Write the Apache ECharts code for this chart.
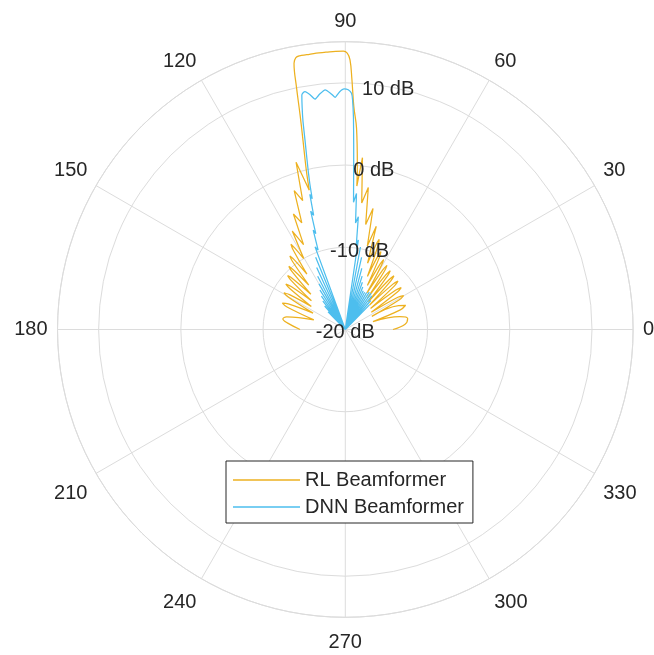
<!DOCTYPE html>
<html>
<head>
<meta charset="utf-8">
<script src="https://cdn.jsdelivr.net/npm/echarts@6/dist/echarts.min.js"></script>
<style>
html,body{margin:0;padding:0;background:#fff;}
#chart{width:654px;height:655px;}
</style>
</head>
<body>
<div id="chart"></div>
<script>
const angleTicks = [0, 30, 60, 90, 120, 150, 180, 210, 240, 270, 300, 330];
const radiusTicks = [-20, -10, 0, 10];
const radiusLabelAngle = 80;
const seriesNames = ['RL Beamformer', 'DNN Beamformer'];

// RL beamformer pattern (angle in degrees, gain in dB)
const rlAngles = [0, 5, 10, 13.3, 16, 19.6, 21.9, 24.2, 26.3, 28.8,
  30.2, 31.6, 33.6, 35.7, 36.9, 38.0, 39.8, 41.6, 42.6, 43.6,
  45.3, 46.9, 47.8, 48.7, 50.2, 51.8, 52.6, 53.4, 54.8, 56.2,
  57.0, 57.8, 59.2, 60.6, 61.3, 62.0, 63.4, 64.7, 65.4, 66.1,
  67.4, 68.7, 69.4, 70.1, 71.4, 73.3, 75.2, 77.1, 79.0, 80.8,
  82.6, 84.3, 85.4, 85.8, 86.8, 87.8, 88.5, 89.0, 89.6, 90.4,
  92, 94, 96, 98, 99.5, 100.3, 100.9, 101.4, 101.9, 102.6,
  103.3, 103.9, 104.5, 106.4, 108.3, 110.2, 112.2, 114.2, 116.2, 118.3,
  120.4, 121.8, 122.5, 123.2, 124.7, 126.2, 127.0, 127.8, 129.4, 131.0,
  131.8, 132.6, 134.3, 136.0, 136.9, 137.8, 139.7, 141.6, 142.6, 143.6,
  145.8, 148.0, 149.1, 150.3, 153.0, 155.8, 157.2, 158.9, 163.0, 167.8,
  170.4, 173.5, 180];
const rlGain = [-14.2, -12.7, -12.3, -13.2, -16.5, -12.9, -12.1, -12.9, -16.4, -12.5,
  -11.8, -12.5, -16.2, -12.2, -11.5, -12.2, -16.0, -12.0, -11.3, -12.0,
  -15.8, -11.9, -11.2, -11.9, -15.6, -11.7, -11.0, -11.7, -15.3, -11.4,
  -10.7, -11.4, -14.8, -11.0, -10.3, -11.0, -14.0, -10.3, -9.6, -10.3,
  -13.0, -9.0, -8.3, -9.0, -11.5, -6.9, -9.5, -4.9, -7.0, -2.5,
  -4.5, 1.0, -2.5, 0.0, 4.5, 7.1, 10.5, 12.8, 13.6, 13.85,
  13.85, 13.8, 13.8, 13.75, 13.75, 13.6, 12.98, 10.0, 6.67, 3.6,
  1.3, -0.5, -2.5, 1.2, -3.5, -2.0, -6.0, -4.6, -8.5, -6.4,
  -10.0, -8.4, -7.7, -8.4, -11.8, -9.5, -8.8, -9.5, -13.0, -10.4,
  -9.7, -10.4, -14.0, -11.1, -10.4, -11.1, -14.6, -11.6, -10.9, -11.6,
  -15.0, -12.0, -11.3, -12.0, -15.6, -12.4, -11.7, -12.4, -16.0, -12.7,
  -12.3, -12.9, -14.5];

// DNN beamformer pattern (angle in degrees, gain in dB)
const dnnAngles = [0, 43.9, 45.6, 47.2, 48.7, 50.2, 51.7, 53.1, 54.5, 55.9,
  57.3, 58.7, 60.0, 61.3, 62.6, 63.9, 65.2, 66.4, 67.7, 68.9,
  70.1, 71.3, 72.5, 73.7, 74.9, 76.1, 77.3, 78.5, 79.6, 80.7,
  81.7, 82.6, 83.4, 84.5, 85.3, 86.3, 86.7, 87.0, 87.4, 87.8,
  88.2, 88.5, 89.3, 90.3, 91.4, 92.5, 93.6, 94.8, 96.2, 97.5,
  98.6, 99.6, 100.1, 100.5, 101.0, 101.5, 102.0, 102.6, 103.2, 103.7,
  104.2, 104.7, 105.5, 106.3, 107.1, 107.9, 108.9, 110.1, 111.2, 112.3,
  113.6, 114.8, 116.1, 117.4, 118.7, 120.0, 121.3, 122.7, 124.1, 125.5,
  126.9, 128.3, 129.8, 131.3, 132.8, 134.4, 136.1, 180];
const dnnGain = [-20, -20, -15.8, -20, -15.3, -20, -14.8, -20, -14.6, -20,
  -14.6, -20, -14.8, -20, -14.9, -20, -14.8, -20, -14.4, -20,
  -13.9, -20, -13.2, -20, -12.3, -20, -11.0, -20, -9.8, -20,
  -9.0, -9.6, -6.2, -7.0, -3.4, -4.5, -2.5, -0.5, 2.5, 5.8,
  8.0, 8.75, 9.15, 9.26, 8.9, 8.27, 8.8, 9.24, 8.8, 8.25,
  8.9, 9.34, 9.25, 9.0, 7.5, 5.8, 3.6, 1.5, -0.3, -1.8,
  -3.6, -3.0, -5.6, -5.0, -7.8, -7.3, -9.8, -9.3, -20, -10.5,
  -20, -11.7, -20, -12.7, -20, -13.6, -20, -14.3, -20, -15.0,
  -20, -15.6, -20, -16.2, -20, -17.0, -20, -20];

const textColor = '#262626';
const gridColor = '#dcdcdc';
const fontFamily = 'Liberation Sans, Arial, sans-serif';

const chart = echarts.init(document.getElementById('chart'), null, {renderer: 'canvas'});
const option = {
  animation: false,
  backgroundColor: '#ffffff',
  polar: {center: [345.3, 329.5], radius: 287.8},
  angleAxis: {
    type: 'value', min: 0, max: 360, interval: 30,
    startAngle: 0, clockwise: false,
    axisLine: {show: true, lineStyle: {color: gridColor, width: 1}},
    axisTick: {show: false},
    axisLabel: {
      margin: 10, color: textColor, fontSize: 20, fontFamily: fontFamily,
      padding: [5, 0, 0, 0],
      formatter: v => angleTicks.includes(v) ? String(v) : ''
    },
    splitLine: {show: true, lineStyle: {color: gridColor, width: 1}}
  },
  radiusAxis: {
    type: 'value', min: -20, max: 15, interval: 10,
    axisLine: {show: false}, axisTick: {show: false}, axisLabel: {show: false},
    splitLine: {show: true, lineStyle: {color: gridColor, width: 1}}
  },
  legend: {
    data: seriesNames,
    orient: 'vertical',
    left: 226, top: 461,
    padding: [9, 9, 6, 7],
    icon: 'rect',
    itemWidth: 67, itemHeight: 1.3, itemGap: 7,
    backgroundColor: '#ffffff',
    borderColor: textColor, borderWidth: 1, borderRadius: 0,
    textStyle: {color: textColor, fontSize: 20, fontFamily: fontFamily},
    selectedMode: false
  },
  series: [
    {
      name: seriesNames[0], type: 'line', coordinateSystem: 'polar',
      data: rlGain.map((g, i) => [g, rlAngles[i]]),
      showSymbol: false, symbol: 'none', smooth: 0.4,
      lineStyle: {color: '#EDB120', width: 1.25}, itemStyle: {color: '#EDB120'}, z: 2
    },
    {
      name: seriesNames[1], type: 'line', coordinateSystem: 'polar',
      data: dnnGain.map((g, i) => [g, dnnAngles[i]]),
      showSymbol: false, symbol: 'none', smooth: 0.15,
      lineStyle: {color: '#4DBEEE', width: 1.25}, itemStyle: {color: '#4DBEEE'}, z: 3
    },
    {
      name: 'rticks', type: 'scatter', coordinateSystem: 'polar',
      data: radiusTicks.map(r => [r, radiusLabelAngle]),
      symbolSize: 0, itemStyle: {color: textColor, opacity: 1},
      silent: true, z: 5,
      label: {
        show: true, position: 'inside', offset: [0, 3],
        color: textColor, opacity: 1, textBorderWidth: 0, textShadowBlur: 0,
        fontSize: 20, fontFamily: fontFamily,
        formatter: p => p.value[0] + ' dB'
      }
    }
  ]
};
chart.setOption(option);
</script>
</body>
</html>
